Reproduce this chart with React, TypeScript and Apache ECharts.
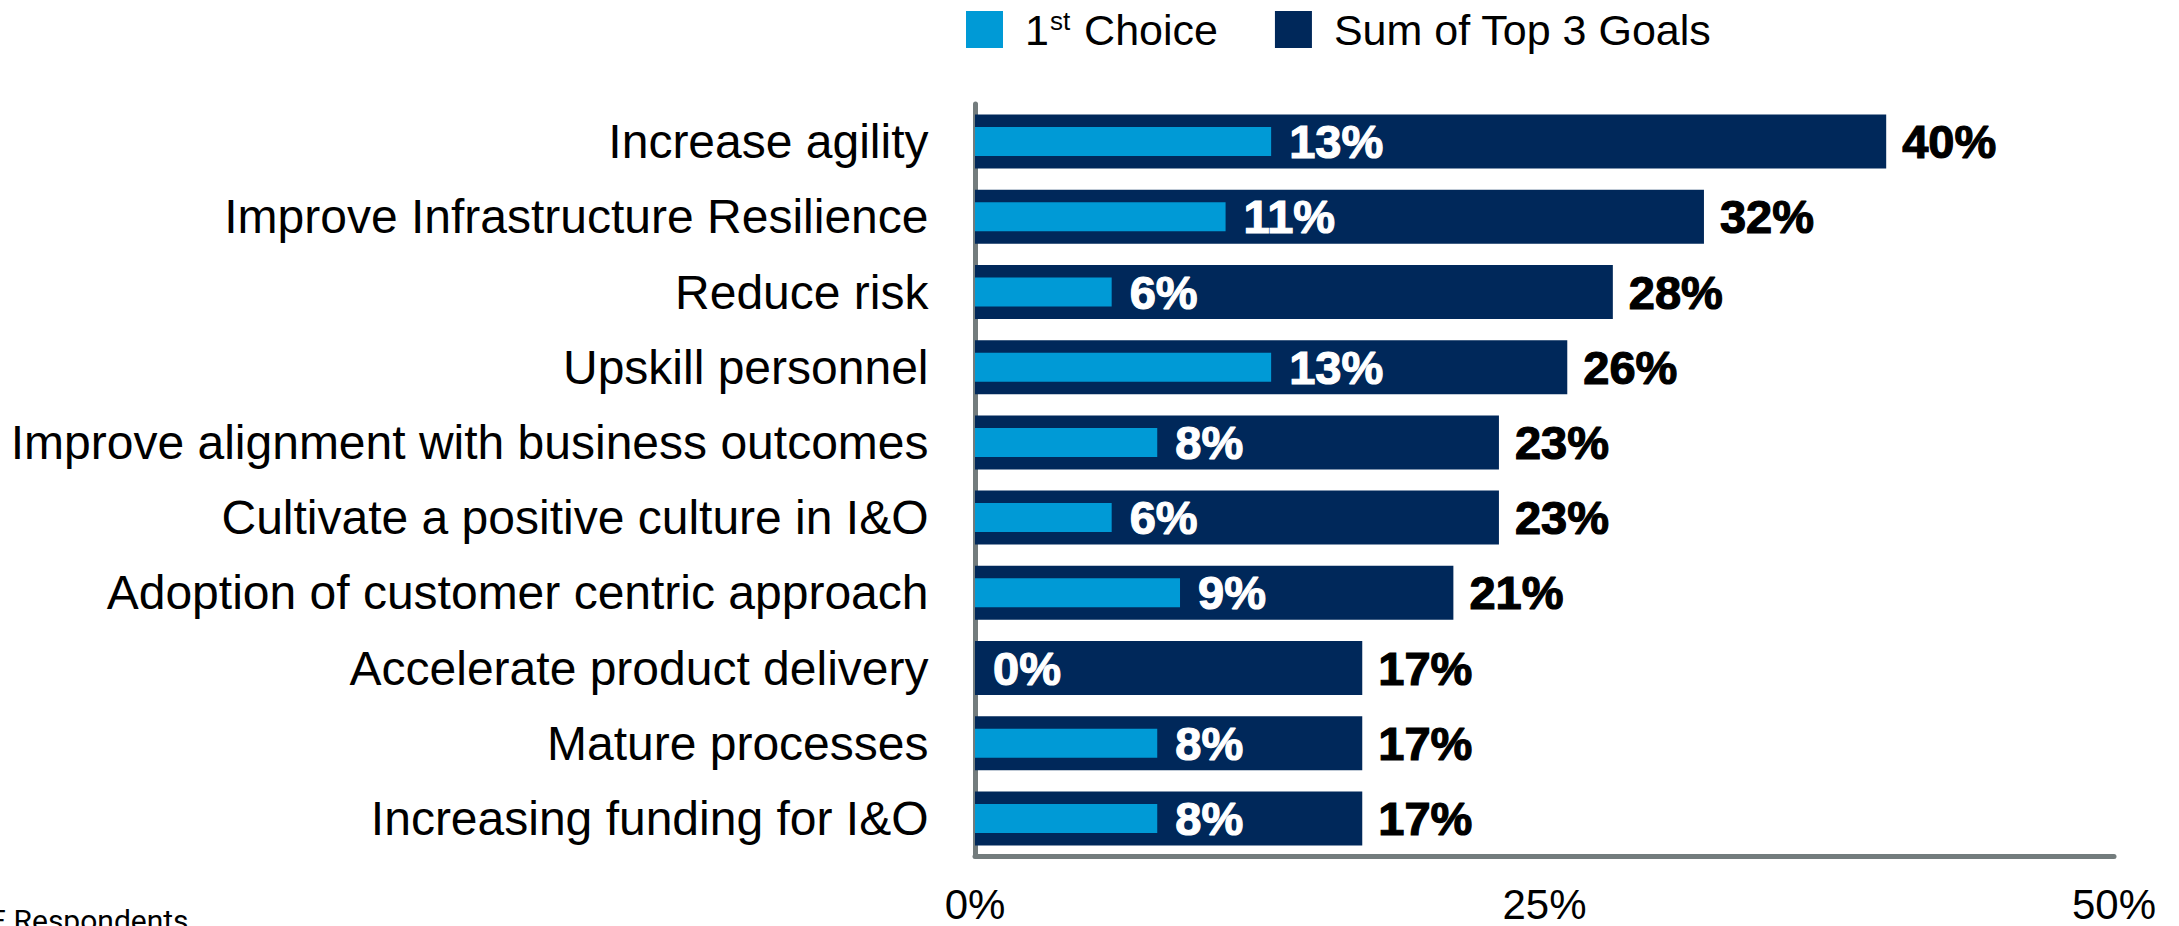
import React, { useEffect, useRef } from 'react';
import * as echarts from 'echarts';

const categories: string[] = [
  'Increase agility',
  'Improve Infrastructure Resilience',
  'Reduce risk',
  'Upskill personnel',
  'Improve alignment with business outcomes',
  'Cultivate a positive culture in I&O',
  'Adoption of customer centric approach',
  'Accelerate product delivery',
  'Mature processes',
  'Increasing funding for I&O',
];
const firstChoice: number[] = [13, 11, 6, 13, 8, 6, 9, 0, 8, 8];
const topThreeSum: number[] = [40, 32, 28, 26, 23, 23, 21, 17, 17, 17];
const seriesNames: string[] = ['1st Choice', 'Sum of Top 3 Goals'];
const xMin = 0;
const xMax = 50;
const xInterval = 25;
const footnote = 'E Respondents';

const FONT = '"Liberation Sans", Arial, Helvetica, sans-serif';
const DARK = '#00285a';
const LIGHT = '#009ad6';
const AXIS = '#737c7d';

export default function App() {
  const ref = useRef<HTMLDivElement>(null);
  useEffect(() => {
    if (!ref.current) return;
    const chart = echarts.init(ref.current, undefined, { renderer: 'svg' });
    chart.setOption({
      animation: false,
      textStyle: { fontFamily: FONT },
      legend: {
        data: seriesNames,
        left: 961,
        top: 3,
        icon: 'rect',
        itemWidth: 37,
        itemHeight: 37,
        itemGap: 57,
        formatter: (n: string) => (n === '1st Choice' ? '1{sup|st} Choice' : n),
        textStyle: {
          fontSize: 43,
          color: '#000',
          fontFamily: FONT,
          padding: [0, 0, 0, 17],
          rich: {
            sup: { fontSize: 26, color: '#000', fontFamily: FONT, verticalAlign: 'top', padding: [0, 2, 0, 1] },
          },
        },
      },
      grid: { left: 975, right: 65, top: 104, bottom: 70 },
      xAxis: {
        type: 'value',
        min: xMin,
        max: xMax,
        interval: xInterval,
        splitLine: { show: false },
        axisTick: { show: false },
        axisLine: { show: true, lineStyle: { color: AXIS, width: 5 } },
        axisLabel: { formatter: '{value}%', fontSize: 42, color: '#000', margin: 27 },
      },
      yAxis: [
        {
          type: 'category',
          data: categories,
          inverse: true,
          offset: 3.5,
          axisTick: { show: false },
          axisLine: { show: true, lineStyle: { color: AXIS, width: 5 } },
          axisLabel: { fontSize: 48, color: '#000', margin: 43 },
        },
        {
          type: 'category',
          data: categories,
          inverse: true,
          show: false,
        },
      ],
      series: [
        {
          name: 'Sum of Top 3 Goals',
          type: 'bar',
          yAxisIndex: 0,
          data: topThreeSum,
          barWidth: 54,
          itemStyle: { color: DARK },
          z: 2,
          label: {
            show: true,
            position: 'right',
            distance: 16,
            formatter: '{c}%',
            fontSize: 47,
            fontWeight: 'bold',
            color: '#000',
            textBorderColor: '#000',
            textBorderWidth: 1.2,
          },
        },
        {
          name: '1st Choice',
          type: 'bar',
          yAxisIndex: 1,
          data: firstChoice,
          barWidth: 29,
          itemStyle: { color: LIGHT },
          z: 3,
          label: {
            show: true,
            position: 'right',
            distance: 18,
            formatter: '{c}%',
            fontSize: 47,
            fontWeight: 'bold',
            color: '#fff',
            textBorderColor: '#fff',
            textBorderWidth: 1.2,
          },
        },
      ],
      graphic: [
        {
          type: 'text',
          x: -11,
          y: 905,
          style: { text: footnote, fontSize: 30, fontFamily: 'Roboto, sans-serif', fill: '#000' },
        },
      ],
    });
    return () => chart.dispose();
  }, []);
  return <div ref={ref} style={{ position: 'absolute', left: 0, top: 0, width: 2179, height: 926 }} />;
}
